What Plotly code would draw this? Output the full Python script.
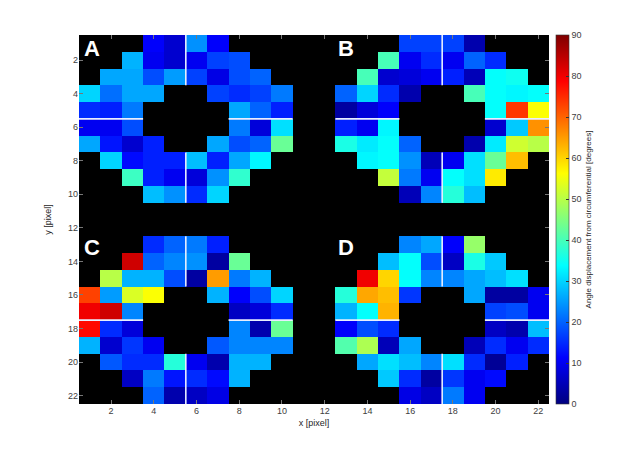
import plotly.graph_objects as go

N = None

# 10x10 blocks of the four rings (angle in degrees, None = no data)
ring_a = [
    [N, N, N, 11, 7, 24, 11, N, N, N],
    [N, N, 27, 10, 7, 10, 17, 18, N, N],
    [N, 26, 26, 18, 25, 17, 9, 18, 20, N],
    [30, 21, 26, 26, N, N, 17, 15, 17, 22],
    [15, 14, 22, N, N, N, N, 26, 20, 14],
    [10, 10, 18, N, N, N, N, 22, 8, 31],
    [26, 13, 7, 14, N, N, 26, 18, 20, 43],
    [N, 30, 12, 14, 14, 28, 14, 26, 33, N],
    [N, N, 39, 14, 10, 8, 24, 38, N, N],
    [N, N, N, 28, 24, 15, 30, N, N, N],
]
ring_b = [
    [N, N, N, 17, 17, 17, 4, N, N, N],
    [N, N, 40, 10, 15, 10, 20, 15, N, N],
    [N, 40, 7, 8, 10, 14, 5, 34, 35, N],
    [20, 30, 15, 4, N, N, 40, 34, 33, 34],
    [3, 8, 11, N, N, N, N, 34, 74, 56],
    [14, 10, 33, N, N, N, N, 7, 29, 66],
    [36, 32, 34, 20, N, N, 4, 32, 52, 50],
    [N, 33, 34, 24, 5, 10, 31, 43, 62, N],
    [N, N, 51, 22, 10, 34, 31, 58, N, N],
    [N, N, N, 5, 23, 37, 28, N, N, N],
]
ring_c = [
    [N, N, N, 15, 20, 22, 14, N, N, N],
    [N, N, 83, 20, 23, 24, 3, 43, N, N],
    [N, 50, 27, 27, 18, 3, 65, 22, 27, N],
    [73, 25, 53, 56, N, N, 27, 11, 18, 30],
    [80, 83, 23, N, N, N, N, 6, 8, 15],
    [78, 15, 8, N, N, N, N, 23, 4, 43],
    [27, 7, 16, 10, N, N, 19, 23, 23, 23],
    [N, 19, 15, 15, 37, 10, 4, 27, 27, N],
    [N, N, 6, 22, 13, 15, 12, 27, N, N],
    [N, N, N, 20, 4, 6, 9, N, N, N],
]
ring_d = [
    [N, N, N, 23, 26, 11, 47, N, N, N],
    [N, N, 28, 34, 18, 6, 36, 29, N, N],
    [N, 80, 60, 34, 23, 23, 26, 28, 31, N],
    [37, 64, 62, 16, N, N, 26, 3, 3, 10],
    [27, 34, 63, N, N, N, N, 17, 18, 10],
    [11, 18, 15, N, N, N, N, 6, 4, 28],
    [41, 49, 5, 26, N, N, 5, 15, 10, 15],
    [N, 26, 31, 28, 23, 31, 15, 2, 14, N],
    [N, N, 29, 15, 3, 16, 10, 12, N, N],
    [N, N, N, 9, 6, 22, 10, N, N, N],
]

labels = ["A", "B", "C", "D"]
label_x = [1.1, 13.0, 1.1, 13.0]
label_y = [1.3, 1.3, 13.15, 13.15]
ring_centers = [(5.5, 5.5), (17.5, 5.5), (5.5, 17.5), (17.5, 17.5)]
inner_r, outer_r = 2, 5

# assemble 22x22 image
gap = [N, N]
z = []
for ra, rb in zip(ring_a, ring_b):
    z.append(ra + gap + rb)
z.append([N] * 22)
z.append([N] * 22)
for rc, rd in zip(ring_c, ring_d):
    z.append(rc + gap + rd)

pix = list(range(1, 23))

jet = [[0, "#00007F"], [0.125, "#0000FF"], [0.375, "#00FFFF"],
       [0.625, "#FFFF00"], [0.875, "#FF0000"], [1, "#7F0000"]]

fig = go.Figure()
fig.add_trace(go.Heatmap(
    z=z, x=pix, y=pix, colorscale=jet, zmin=0, zmax=90,
    hoverongaps=False,
    colorbar=dict(
        x=1.0149, xanchor="left", y=0.5, yanchor="middle", ypad=0, xpad=0,
        len=1, thickness=13, outlinewidth=0.6, outlinecolor="#333",
        tickvals=list(range(0, 91, 10)), ticks="inside", ticklen=3,
        tickcolor="#333", tickfont=dict(size=9, color="#404040"),
        title=dict(text="Angle displacement from circumferential [degrees]",
                   side="right", font=dict(size=8, color="#262626")),
    ),
))

# white spoke lines through each ring
lx, ly = [], []
for cx, cy in ring_centers:
    for a, b in [(-outer_r, -inner_r), (inner_r, outer_r)]:
        lx += [cx, cx, None]
        ly += [cy + a, cy + b, None]
        lx += [cx + a, cx + b, None]
        ly += [cy, cy, None]
fig.add_trace(go.Scatter(x=lx, y=ly, mode="lines",
                         line=dict(color="#e8eeff", width=1.6),
                         hoverinfo="skip", showlegend=False))

for t, x, y in zip(labels, label_x, label_y):
    fig.add_annotation(x=x, y=y, text=f"<b>{t}</b>", showarrow=False,
                       font=dict(size=22, color="white", family="Arial"),
                       xanchor="center", yanchor="middle")

axis_style = dict(
    tickvals=list(range(2, 23, 2)), ticks="inside", ticklen=4,
    tickcolor="#777", mirror="ticks", showgrid=False, zeroline=False,
    showline=False, automargin=False, tickfont=dict(size=9, color="#404040"),
)
fig.update_xaxes(range=[0.5, 22.5], title=dict(text="x [pixel]", standoff=4,
                 font=dict(size=9, color="#262626")), **axis_style)
fig.update_yaxes(range=[22.5, 0.5], title=dict(text="y [pixel]", standoff=14,
                 font=dict(size=9, color="#262626")), **axis_style)

# page body adds 8px offset, so the figure is a bit smaller than the window
fig.update_layout(
    width=632, height=446,
    margin=dict(l=71, r=91, t=27, b=50, autoexpand=False),
    paper_bgcolor="white", plot_bgcolor="black",
    font=dict(family="Arial"),
    showlegend=False,
)

fig.write_html("out.html")
